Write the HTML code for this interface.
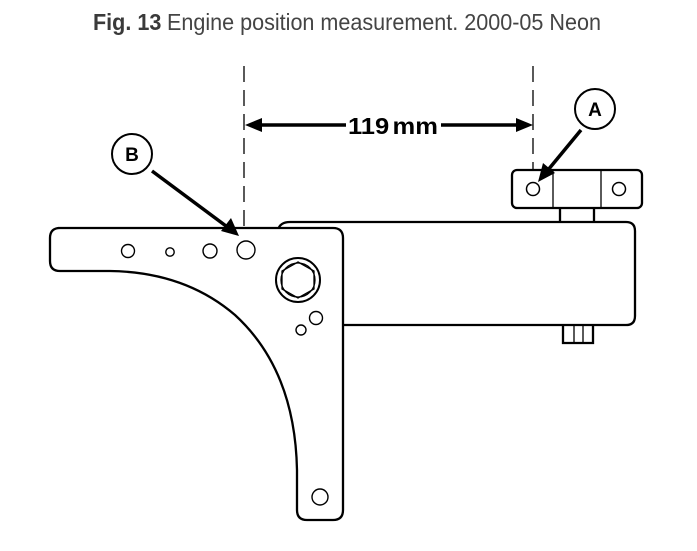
<!DOCTYPE html>
<html><head><meta charset="utf-8"><style>
html,body{margin:0;padding:0;background:#fff;}
svg{display:block;}
</style></head><body>
<svg width="697" height="551" viewBox="0 0 697 551" xmlns="http://www.w3.org/2000/svg">
<text x="93" y="30" font-family="Liberation Sans, sans-serif" font-size="23" fill="#3a3a3a" textLength="508" lengthAdjust="spacingAndGlyphs"><tspan font-weight="bold">Fig. 13</tspan><tspan dx="6" fill="#444">Engine position measurement. 2000-05 Neon</tspan></text>
<g fill="none" stroke="#000" stroke-width="2.3">
<line x1="244" y1="66" x2="244" y2="226" stroke-width="1.3" stroke-dasharray="16,8"/>
<line x1="533" y1="66" x2="533" y2="170" stroke-width="1.3" stroke-dasharray="16,8"/>
<path d="M343 325 L626 325 Q635 325 635 316 L635 231 Q635 222 626 222 L290 222 Q280 222 278 230"/>
<path d="M560 209 L560 222 M594 209 L594 222"/>
<rect x="512" y="170" width="130" height="38" rx="5"/>
<line x1="553" y1="170" x2="553" y2="208" stroke-width="1.3"/>
<line x1="601" y1="170" x2="601" y2="208" stroke-width="1.3"/>
<circle cx="533" cy="189" r="6.5" stroke-width="1.5"/>
<circle cx="619" cy="189" r="6.5" stroke-width="1.5"/>
<path d="M563 325 L563 343 L593 343 L593 325" />
<line x1="574" y1="325" x2="574" y2="343" stroke-width="1.3"/>
<line x1="583" y1="325" x2="583" y2="343" stroke-width="1.3"/>
<path d="M58 228 L333 228 Q343 228 343 238 L343 510 Q343 520 333 520 L307 520 Q297 520 297 510 L297 470 Q295 370 235 315 Q185 272 110 271 L60 271 Q50 271 50 261 L50 238 Q50 228 60 228 Z" fill="#fff"/>
<circle cx="128" cy="251" r="6.5" stroke-width="1.4"/>
<circle cx="170" cy="252" r="4.2" stroke-width="1.4"/>
<circle cx="210" cy="251" r="7" stroke-width="1.4"/>
<circle cx="246" cy="250" r="9" stroke-width="1.4"/>
<circle cx="320" cy="497" r="8" stroke-width="1.4"/>
<circle cx="316" cy="318" r="6.5" stroke-width="1.4"/>
<circle cx="301" cy="330" r="5" stroke-width="1.4"/>
<circle cx="298" cy="280" r="22" stroke-width="2"/>
<polygon points="298,262 314,271 314,289 298,298 282,289 282,271" stroke-width="1.3"/>
<circle cx="298" cy="280" r="17" stroke-width="1.3"/>
<circle cx="595" cy="109" r="20" stroke-width="2"/>
<circle cx="132" cy="154" r="20" stroke-width="2"/>
<line x1="258" y1="125" x2="346" y2="125" stroke-width="3.5"/>
<line x1="441" y1="125" x2="520" y2="125" stroke-width="3.5"/>
<line x1="581" y1="130" x2="548" y2="170" stroke-width="3.5"/>
<line x1="152" y1="171" x2="226" y2="226" stroke-width="3.5"/>
</g>
<g fill="#000">
<polygon points="245,125 262,118 262,132"/>
<polygon points="533,125 516,118 516,132"/>
<polygon points="538,182 543,163 555,173"/>
<polygon points="239,236 221,231 231,218"/>
</g>
<g font-family="Liberation Sans, sans-serif" font-weight="bold" fill="#000">
<text x="348" y="134" font-size="23" textLength="90" lengthAdjust="spacingAndGlyphs">119<tspan dx="3">mm</tspan></text>
<text x="595" y="116" font-size="19" text-anchor="middle">A</text>
<text x="132" y="161" font-size="19" text-anchor="middle">B</text>
</g>
</svg>
</body></html>
